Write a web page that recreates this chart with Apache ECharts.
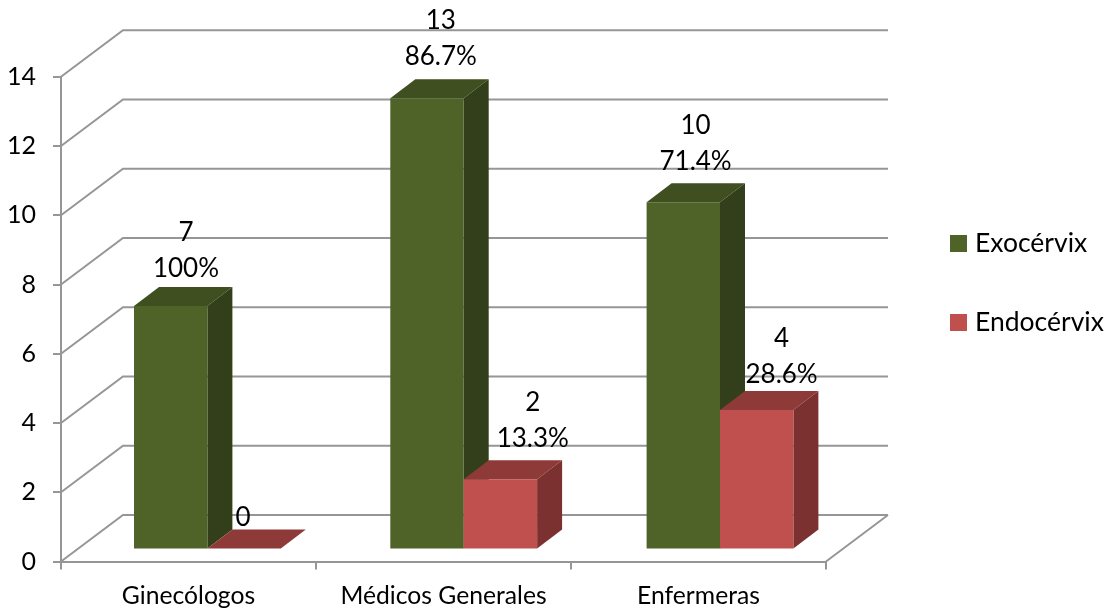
<!DOCTYPE html>
<html>
<head>
<meta charset="utf-8">
<style>html,body{margin:0;padding:0;background:#fff}#c{width:1114px;height:608px}</style>
<script src="https://cdn.jsdelivr.net/npm/echarts@6/dist/echarts.min.js"></script>
</head>
<body>
<div id="c"></div>
<script>
const categories = ['Ginecólogos', 'Médicos Generales', 'Enfermeras'];
const exoValues = [7, 13, 10];
const endoValues = [0, 2, 4];
const exoPercents = ['100%', '86.7%', '71.4%'];
const endoPercents = ['', '13.3%', '28.6%'];
const yTicks = [0, 2, 4, 6, 8, 10, 12, 14];

const FONT = 'Lato, "Open Sans", sans-serif';
const FS_AXIS_X = 24.7, FS_AXIS_Y = 25, FS_LABEL = 26, FS_LEGEND = 26.5;
const GRID = '#969696';
const DEPTH_X = 25, DEPTH_Y = 19;
const WALL_X = 62, WALL_Y = 46.5;
const FLOOR_UP = 13;
const BAR_W = 73.4;
const BAND_DRIFT = 1.3;

const exoColors = { front: '#4F6228', top: '#3F4F20', side: '#333F1A' };
const endoColors = { front: '#C0504D', top: '#8E3A38', side: '#7B312F' };

function barRenderer(shift, colors) {
  return function (params, api) {
    const i = api.value(0);
    const base = api.coord([i, 0]);
    const top = api.coord([i, api.value(1)]);
    const x0 = base[0] + shift + i * BAND_DRIFT, x1 = x0 + BAR_W;
    const yb = base[1] - FLOOR_UP, yt = top[1] - FLOOR_UP;
    const poly = (pts, fill) => ({ type: 'polygon', shape: { points: pts }, style: { fill: fill } });
    return {
      type: 'group',
      children: [
        poly([[x0, yt], [x1, yt], [x1 + DEPTH_X, yt - DEPTH_Y], [x0 + DEPTH_X, yt - DEPTH_Y]], colors.top),
        poly([[x1, yb], [x1, yt], [x1 + DEPTH_X, yt - DEPTH_Y], [x1 + DEPTH_X, yb - DEPTH_Y]], colors.side),
        { type: 'rect', shape: { x: x0, y: yt, width: BAR_W, height: yb - yt }, style: { fill: colors.front } }
      ]
    };
  };
}

function wallRenderer(params, api) {
  const cs = params.coordSys;
  const y = api.coord([0, api.value(1)])[1];
  const children = [{
    type: 'polyline',
    shape: { points: [[cs.x, y], [cs.x + WALL_X, y - WALL_Y], [cs.x + cs.width + WALL_X, y - WALL_Y]] },
    style: { fill: null, stroke: GRID, lineWidth: 2 }
  }];
  if (api.value(1) === 0) {
    children.push({
      type: 'line',
      shape: { x1: cs.x + cs.width, y1: y, x2: cs.x + cs.width + WALL_X, y2: y - WALL_Y },
      style: { stroke: GRID, lineWidth: 2 }
    });
  }
  return { type: 'group', children: children };
}

const exoNudge = [[-2.5, -55.5], [-2.7, -59.5], [-2.9, -59]];
const endoNudge = [[54.5, -31], [89.3, -59], [83.1, -53]];

function labelRenderer(nudge, percents) {
  return function (params, api) {
    const i = api.value(0);
    const p = api.coord([i, api.value(1)]);
    const text = percents[i] ? api.value(1) + '\n' + percents[i] : String(api.value(1));
    return {
      type: 'text',
      style: {
        text: text, x: p[0] + nudge[i][0], y: p[1] - FLOOR_UP + nudge[i][1],
        align: 'center', verticalAlign: 'middle', lineHeight: 36,
        fill: '#000', font: FS_LABEL + 'px ' + FONT
      }
    };
  };
}

const chart = echarts.init(document.getElementById('c'), null, { renderer: 'canvas' });
chart.setOption({
  animation: false,
  backgroundColor: '#fff',
  textStyle: { fontFamily: FONT },
  grid: { left: 61, width: 765, top: 76.7, height: 484.8, outerBoundsMode: 'none' },
  legend: {
    data: ['Exocérvix', 'Endocérvix'],
    orient: 'vertical', left: 950, top: 230, padding: 0,
    icon: 'rect', itemWidth: 17, itemHeight: 17, itemGap: 52,
    textStyle: { fontFamily: FONT, fontSize: FS_LEGEND, color: '#000', padding: [0, 0, 0, 3] },
    selectedMode: false
  },
  xAxis: {
    type: 'category', data: categories,
    axisLine: { lineStyle: { color: GRID, width: 2 } },
    axisTick: { show: true, length: 8, alignWithLabel: false, interval: 0, lineStyle: { color: GRID, width: 2 } },
    axisLabel: { color: '#000', fontSize: FS_AXIS_X, fontFamily: FONT, margin: 22, interval: 0, hideOverlap: false },
    splitLine: { show: false }
  },
  yAxis: {
    type: 'value', min: 0, max: 14, interval: 2,
    axisLine: { show: true, lineStyle: { color: GRID, width: 2 } },
    axisTick: { show: true, length: 8, lineStyle: { color: GRID, width: 2 } },
    axisLabel: { color: '#000', fontSize: FS_AXIS_Y, fontFamily: FONT, margin: 25 },
    splitLine: { show: false }
  },
  series: [
    { name: 'walls', type: 'custom', silent: true, renderItem: wallRenderer, encode: { x: 0, y: 1 }, data: yTicks.map(v => [0, v]), z: 1 },
    { name: 'Exocérvix', type: 'custom', renderItem: barRenderer(-54.5, exoColors), encode: { x: 0, y: 1 }, itemStyle: { color: exoColors.front }, data: exoValues.map((v, i) => [i, v]), z: 2 },
    { name: 'Endocérvix', type: 'custom', renderItem: barRenderer(18.9, endoColors), encode: { x: 0, y: 1 }, itemStyle: { color: endoColors.front }, data: endoValues.map((v, i) => [i, v]), z: 3 },
    { name: 'exoLabels', type: 'custom', silent: true, renderItem: labelRenderer(exoNudge, exoPercents), encode: { x: 0, y: 1 }, data: exoValues.map((v, i) => [i, v]), z: 5 },
    { name: 'endoLabels', type: 'custom', silent: true, renderItem: labelRenderer(endoNudge, endoPercents), encode: { x: 0, y: 1 }, data: endoValues.map((v, i) => [i, v]), z: 5 }
  ]
});
</script>
</body>
</html>
